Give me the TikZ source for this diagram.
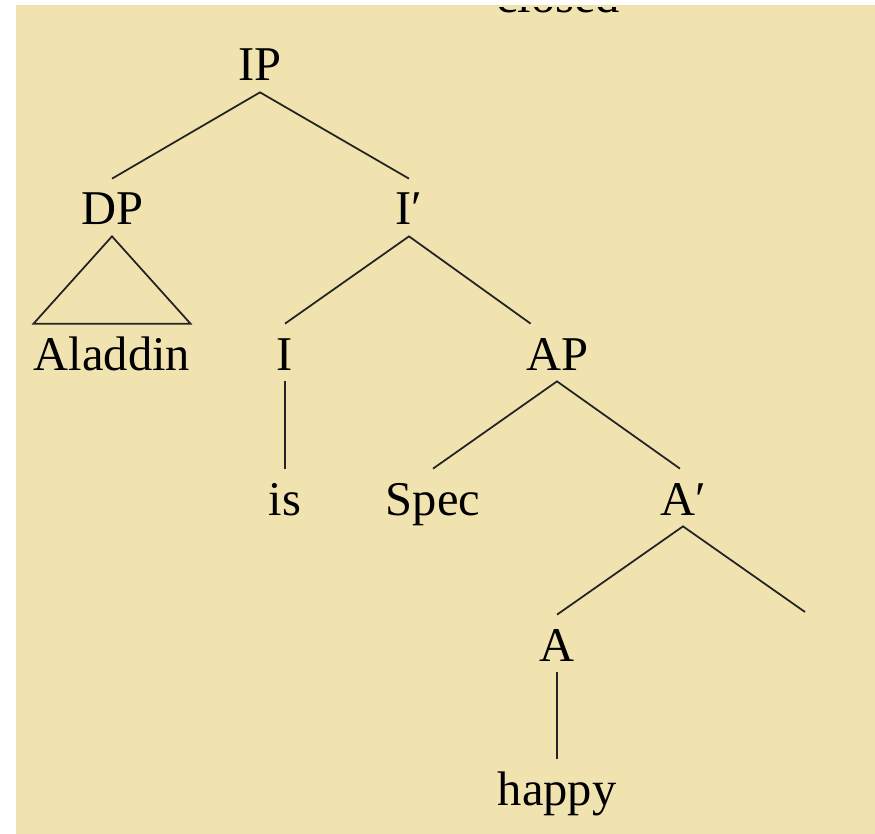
\documentclass[tikz,border=0pt]{standalone}
\usepackage{fontspec}
\setmainfont{Liberation Serif}
\usepackage{tikz}
\usetikzlibrary{calc, positioning}
\definecolor{parchment}{RGB}{240,227,176}
\definecolor{branchgray}{RGB}{35,35,35}

\begin{document}
\begin{tikzpicture}[x=0.02cm, y=-0.02cm,
	lbl/.style={anchor=base, inner sep=0pt, text height=0.92cm, text depth=0.22cm, font=\fontsize{27.6}{33}\selectfont},
	branch/.style={draw=branchgray, line width=1pt}]
\useasboundingbox (0,0) rectangle (875,834);
\fill[parchment] (16,5) rectangle (875,834);
\begin{scope}
	\clip (16,8) rectangle (875,834);
	\node[lbl] (closed) at (558,13) {closed};
\end{scope}

	\node[lbl] (ip) at (260,81) {IP};
	\node[lbl] (dp) at (112,225) {DP};
	\node[lbl] (ibar) at (409,225) {I′};
	\node[lbl] (aladdin) at (112,370) {Aladdin};
	\node[lbl] (i) at (285,370) {I};
	\node[lbl] (ap) at (557,370) {AP};
	\node[lbl] (is) at (285,515) {is};
	\node[lbl] (spec) at (433,515) {Spec};
	\node[lbl] (abar) at (683,515) {A′};
	\node[lbl] (a) at (557,661) {A};
	\node[lbl] (happy) at (557,805) {happy};
	\coordinate (empty) at (805,612);

	\draw[branch] (dp.north) -- (ip.south) -- (ibar.north);
	\draw[branch] (dp.south) -- (aladdin.north west) -- (aladdin.north east) -- cycle;
	\draw[branch] (i.north) -- (ibar.south) -- ($(ap.north west)+(5,0)$);
	\draw[branch] (i.south) -- (is.north);
	\draw[branch] (spec.north) -- (ap.south) -- ($(abar.north)+(-3,0)$);
	\draw[branch] (a.north) -- (abar.south) -- (empty);
	\draw[branch] (a.south) -- (happy.north);
\end{tikzpicture}
\end{document}
